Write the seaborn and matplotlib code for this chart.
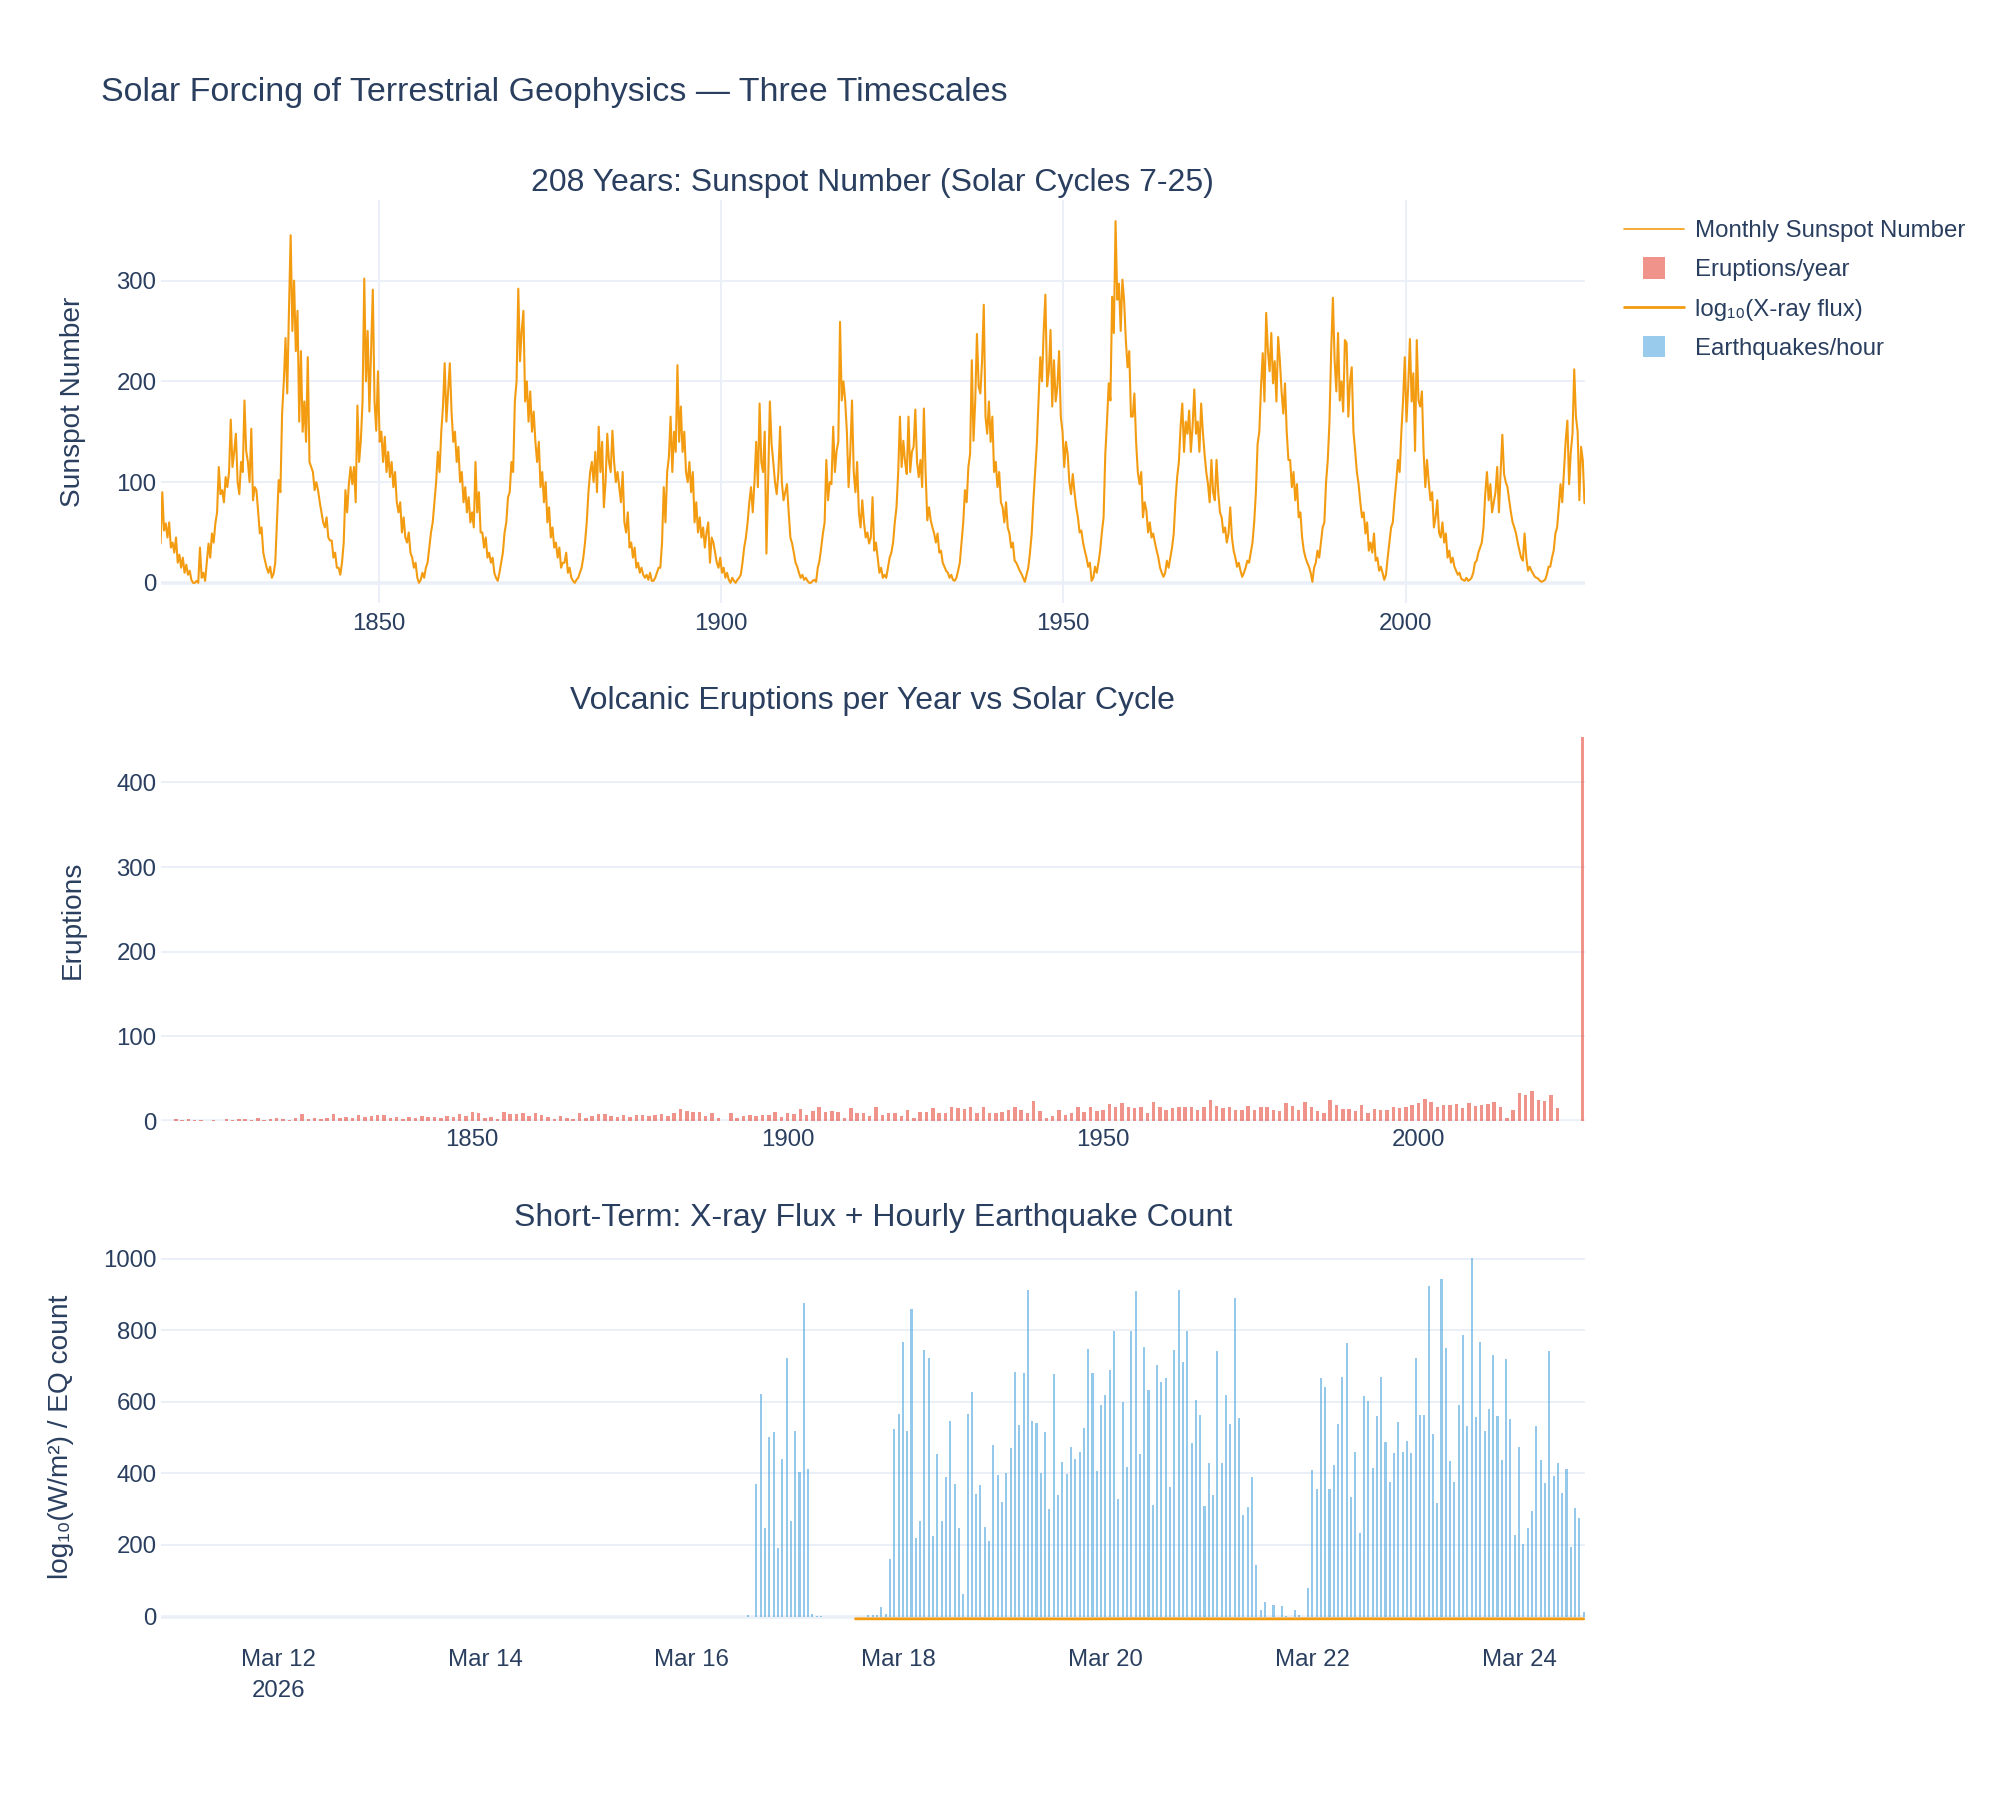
import numpy as np
import pandas as pd
import matplotlib
matplotlib.use('Agg')
import matplotlib.pyplot as plt
import matplotlib.patches as mpatches
from matplotlib.lines import Line2D
from matplotlib.legend_handler import HandlerPatch
import seaborn as sns

# --- data --------------------------------------------------------------------

# Monthly sunspot number, read at quarterly resolution (4 values per year), 1818 -> early 2026
sunspot_start = 1818
sunspot_q = [
    # 1818-1822
    39, 90, 52, 59, 45, 60, 35, 40, 30, 45, 20, 28, 15, 25, 10, 18, 8, 12, 3, 0,
    # 1823-1827
    0, 2, 0, 35, 5, 10, 2, 20, 39, 25, 49, 40, 59, 70, 115, 88, 92, 80, 105, 95,
    # 1828-1832
    110, 162, 115, 130, 148, 100, 88, 120, 110, 181, 131, 120, 100, 153, 82, 95, 92, 70, 49, 55,
    # 1833-1837
    30, 22, 15, 10, 16, 5, 9, 20, 62, 102, 90, 168, 200, 243, 188, 270, 345, 250, 300, 230,
    # 1838-1842
    270, 160, 230, 150, 180, 140, 224, 120, 115, 110, 92, 100, 92, 80, 70, 60, 55, 65, 45, 42,
    # 1843-1847
    42, 25, 30, 15, 15, 8, 20, 40, 92, 70, 98, 115, 98, 115, 80, 176, 120, 141, 180, 302,
    # 1848-1852
    200, 250, 170, 230, 291, 180, 151, 210, 140, 150, 120, 145, 110, 130, 105, 120, 95, 110, 80, 70,
    # 1853-1857
    80, 50, 65, 45, 40, 50, 30, 25, 15, 20, 5, 0, 3, 10, 5, 15, 20, 35, 50, 60,
    # 1858-1862
    80, 100, 130, 110, 150, 175, 218, 160, 190, 218, 170, 140, 150, 120, 135, 100, 110, 80, 95, 70,
    # 1863-1867
    85, 60, 70, 55, 120, 70, 90, 50, 50, 35, 45, 25, 30, 20, 25, 10, 5, 2, 10, 20,
    # 1868-1872
    30, 50, 60, 85, 90, 120, 110, 180, 200, 292, 220, 250, 270, 180, 200, 160, 190, 150, 170, 140,
    # 1873-1877
    120, 140, 95, 110, 80, 100, 60, 75, 45, 55, 35, 40, 25, 35, 15, 20, 20, 30, 10, 15,
    # 1878-1882
    5, 2, 0, 3, 5, 10, 15, 25, 40, 60, 90, 110, 120, 100, 130, 90, 155, 110, 140, 75,
    # 1883-1887
    100, 148, 120, 110, 151, 120, 100, 110, 95, 80, 110, 60, 50, 70, 35, 40, 25, 35, 15, 20,
    # 1888-1892
    10, 15, 8, 5, 8, 3, 10, 2, 2, 5, 10, 15, 15, 40, 95, 60, 110, 125, 165, 110,
    # 1893-1897
    150, 130, 216, 140, 175, 130, 150, 110, 100, 120, 90, 110, 60, 80, 50, 65, 45, 55, 35, 50,
    # 1898-1902
    60, 20, 45, 40, 30, 20, 15, 25, 10, 15, 5, 10, 3, 0, 5, 2, 0, 3, 5, 8,
    # 1903-1907
    20, 35, 45, 60, 80, 95, 70, 100, 140, 95, 178, 120, 110, 150, 29, 100, 180, 138, 120, 100,
    # 1908-1912
    88, 110, 155, 100, 82, 90, 98, 70, 45, 39, 30, 20, 16, 10, 5, 8, 3, 5, 2, 0,
    # 1913-1917
    0, 2, 3, 1, 15, 22, 35, 49, 60, 122, 82, 100, 98, 155, 110, 131, 140, 259, 181, 200,
    # 1918-1922
    181, 150, 95, 130, 181, 110, 90, 120, 70, 55, 82, 60, 45, 50, 39, 45, 85, 32, 40, 25,
    # 1923-1927
    10, 15, 5, 8, 5, 15, 25, 30, 40, 60, 75, 110, 165, 115, 141, 120, 108, 165, 110, 130,
    # 1928-1932
    135, 172, 120, 105, 122, 95, 173, 110, 62, 75, 62, 55, 49, 40, 49, 30, 32, 20, 16, 12,
    # 1933-1937
    10, 5, 8, 3, 2, 5, 12, 20, 40, 60, 92, 80, 115, 128, 221, 141, 180, 247, 195, 188,
    # 1938-1942
    220, 276, 165, 148, 180, 140, 165, 110, 120, 95, 110, 80, 75, 60, 80, 55, 49, 35, 40, 22,
    # 1943-1947
    20, 16, 12, 9, 5, 1, 8, 15, 30, 49, 82, 110, 138, 181, 224, 200, 250, 286, 195, 210,
    # 1948-1952
    251, 175, 221, 180, 195, 230, 165, 150, 115, 140, 128, 100, 88, 108, 90, 75, 65, 50, 52, 40,
    # 1953-1957
    32, 25, 16, 20, 2, 5, 16, 10, 20, 32, 50, 65, 128, 160, 198, 181, 284, 248, 359, 281,
    # 1958-1962
    297, 250, 301, 280, 241, 214, 230, 165, 165, 188, 140, 110, 98, 110, 65, 80, 72, 50, 60, 45,
    # 1963-1967
    49, 40, 32, 25, 15, 10, 6, 10, 22, 15, 25, 35, 49, 82, 105, 120, 155, 178, 130, 160,
    # 1968-1972
    148, 171, 130, 155, 192, 148, 160, 130, 178, 150, 128, 110, 98, 80, 122, 90, 82, 122, 90, 70,
    # 1973-1977
    65, 50, 55, 40, 49, 75, 45, 32, 25, 16, 20, 12, 6, 10, 15, 22, 20, 30, 40, 60,
    # 1978-1982
    90, 138, 150, 195, 228, 180, 268, 231, 210, 248, 198, 220, 180, 244, 221, 190, 168, 198, 150, 122,
    # 1983-1987
    122, 95, 110, 82, 98, 65, 70, 45, 32, 25, 20, 16, 10, 1, 15, 20, 32, 25, 40, 55,
    # 1988-1992
    60, 100, 122, 160, 231, 283, 221, 190, 248, 181, 200, 170, 241, 238, 165, 200, 214, 150, 131, 110,
    # 1993-1997
    98, 80, 65, 70, 49, 60, 32, 40, 30, 49, 22, 25, 12, 16, 10, 3, 8, 25, 40, 55,
    # 1998-2002
    60, 82, 100, 122, 110, 150, 181, 224, 160, 195, 242, 180, 208, 131, 241, 181, 175, 190, 130, 95,
    # 2003-2007
    122, 100, 82, 90, 55, 65, 82, 50, 45, 60, 40, 49, 25, 32, 20, 25, 16, 12, 8, 10,
    # 2008-2012
    4, 3, 2, 5, 2, 3, 5, 10, 20, 22, 30, 35, 40, 55, 88, 110, 82, 98, 70, 80,
    # 2013-2017
    90, 115, 70, 110, 147, 108, 100, 95, 82, 70, 60, 55, 49, 40, 32, 25, 22, 49, 25, 12,
    # 2018-2022
    16, 12, 9, 6, 5, 4, 2, 1, 2, 3, 8, 16, 16, 25, 32, 49, 55, 75, 98, 80,
    # 2023-2026
    110, 141, 161, 98, 130, 148, 212, 165, 150, 82, 135, 122, 79,
]

# Volcanic eruptions per year, 1801-2026
erupt_years = list(range(1801, 2027))
erupt_counts = [
    # 1801-1850
    0, 0, 2, 1, 2, 1, 1, 0, 1, 0, 2, 1, 2, 2, 1, 3, 1, 2, 4, 2,
    1, 3, 8, 2, 3, 2, 4, 8, 3, 5, 4, 7, 5, 6, 7, 7, 3, 5, 2, 5,
    3, 6, 5, 5, 4, 6, 5, 8, 6, 11,
    # 1851-1900
    10, 3, 5, 2, 11, 8, 8, 9, 6, 10, 7, 5, 2, 6, 4, 2, 9, 3, 6, 8,
    8, 6, 5, 7, 5, 7, 7, 6, 7, 8, 6, 9, 14, 12, 11, 11, 6, 9, 4, 0,
    9, 3, 6, 7, 6, 7, 7, 11, 5, 9,
    # 1901-1913
    8, 14, 7, 12, 16, 11, 12, 11, 4, 15, 9, 10, 6,
    # 1914-1963
    16, 7, 9, 10, 6, 13, 3, 11, 11, 15, 10, 9, 17, 15, 14, 17, 10, 17, 10, 10,
    11, 13, 17, 13, 10, 24, 12, 4, 6, 13, 7, 9, 17, 11, 17, 12, 13, 20, 17, 21,
    16, 15, 17, 10, 22, 16, 13, 15, 17, 17,
    # 1964-2013
    17, 13, 17, 25, 18, 15, 17, 13, 13, 18, 13, 16, 16, 13, 12, 21, 18, 13, 23, 17,
    12, 9, 25, 19, 14, 14, 12, 19, 10, 14, 13, 13, 16, 15, 16, 19, 21, 26, 22, 16,
    19, 19, 20, 15, 21, 18, 19, 20, 23, 17,
    # 2014-2026
    4, 13, 33, 31, 35, 25, 24, 31, 15, 0, 0, 0, 453,
]

# Hourly earthquake counts, starting 2026-03-16 13:00
eq_start = '2026-03-16 13:00'
eq_counts = [
    # Mar 16, 13h-23h
    3, 0, 369, 621, 246, 502, 515, 191, 441, 721, 268,
    # Mar 17
    517, 403, 876, 413, 6, 1, 1, 0, 0, 0, 0, 0, 0, 0, 0, 0, 0, 3, 5, 3, 28, 7, 160, 524,
    # Mar 18
    566, 767, 519, 860, 220, 266, 746, 721, 225, 453, 266, 389, 545, 370, 247, 63,
    566, 626, 341, 367, 250, 211, 478, 395,
    # Mar 19
    319, 400, 471, 683, 535, 681, 913, 545, 542, 400, 515, 300, 677, 339, 431, 398,
    475, 440, 460, 526, 747, 681, 407, 591,
    # Mar 20
    620, 689, 797, 328, 598, 418, 799, 910, 453, 753, 634, 313, 704, 655, 667, 362,
    746, 913, 711, 797, 485, 604, 563, 310,
    # Mar 21
    429, 340, 743, 429, 619, 537, 891, 556, 283, 307, 389, 144, 17, 40, 0, 33,
    0, 29, 2, 0, 19, 5, 0, 79,
    # Mar 22
    410, 357, 666, 641, 357, 423, 538, 670, 764, 333, 460, 232, 617, 602, 414, 561,
    668, 488, 376, 457, 543, 459, 490, 456,
    # Mar 23
    721, 563, 563, 923, 510, 316, 944, 749, 434, 375, 590, 787, 532, 1003, 558, 768,
    517, 580, 732, 560, 436, 720, 552, 227,
    # Mar 24, 0h-15h
    473, 204, 247, 296, 532, 436, 372, 741, 392, 428, 344, 411, 194, 304, 276, 12,
]

# log10 of GOES X-ray flux, every 13 hours from 2026-03-17 14:00
xray_start = '2026-03-17 14:00'
xray_log = [-6.4, -6.6, -6.3, -6.5, -6.7, -6.2, -6.4, -6.6, -6.5, -6.3, -6.6, -6.4, -6.5, -6.6]

date_ticks = ['2026-03-12', '2026-03-14', '2026-03-16', '2026-03-18', '2026-03-20', '2026-03-22', '2026-03-24']
date_labels = ['Mar 12\n2026', 'Mar 14', 'Mar 16', 'Mar 18', 'Mar 20', 'Mar 22', 'Mar 24']

# --- style -------------------------------------------------------------------
TEXT = '#2a3f5f'
GRID = '#ebf0f8'
ORANGE = '#f39c12'
RED = '#e74c3c'
BLUE = '#3498db'

sns.set_theme(style='white')
plt.rcParams['font.family'] = ['Liberation Sans', 'DejaVu Sans']
plt.rcParams['text.color'] = TEXT

ss_x = sunspot_start + (np.arange(len(sunspot_q)) + 0.5) / 4.0
eq_t = pd.date_range(eq_start, periods=len(eq_counts), freq='h')
xray_t = pd.date_range(xray_start, periods=len(xray_log), freq='13h')

fig = plt.figure(figsize=(20, 18), dpi=100)
W, H = 2000.0, 1800.0
left, right = 160.7, 1585.0


def panel(top, bottom):
    return fig.add_axes([left / W, 1 - bottom / H, (right - left) / W, (bottom - top) / H])


def style(ax, xgrid=False, ypad=3, xpad=7):
    for s in ax.spines.values():
        s.set_visible(False)
    ax.grid(axis='y', color=GRID, lw=1.4)
    if xgrid:
        ax.grid(axis='x', color=GRID, lw=1.4)
    ax.set_axisbelow(True)
    ax.axhline(0, color=GRID, lw=2.6, zorder=1)
    ax.tick_params(axis='both', length=0, labelsize=17.3, labelcolor=TEXT)
    ax.tick_params(axis='y', pad=ypad)
    ax.tick_params(axis='x', pad=xpad)
    ax.set_xlabel('')


def subtitle(ax, text):
    ax.text(0.5, 1 + 17 / 403, text, transform=ax.transAxes, ha='center', va='center',
            fontsize=23, color=TEXT)


# top: sunspots
ax1 = panel(200, 603)
sns.lineplot(x=ss_x, y=sunspot_q, ax=ax1, color=ORANGE, lw=1.5, estimator=None, legend=False, zorder=3)
style(ax1, xgrid=True)
ax1.set_xlim(1818.14, 2026.2)
ax1.set_ylim(-20, 380)
ax1.set_xticks([1850, 1900, 1950, 2000])
ax1.set_yticks([0, 100, 200, 300])
ax1.set_ylabel('Sunspot Number', fontsize=20.2, color=TEXT, va='center')
ax1.yaxis.set_label_coords((73 - left) / (right - left), 0.5)
subtitle(ax1, '208 Years: Sunspot Number (Solar Cycles 7-25)')

# middle: eruptions
ax2 = panel(718, 1121)
ax2.bar(erupt_years, erupt_counts, width=0.55, color=RED, alpha=0.6, linewidth=0, zorder=3)
style(ax2, xpad=6)
ax2.set_xlim(1800.6, 2026.4)
ax2.set_ylim(0, 476)
ax2.set_xticks([1850, 1900, 1950, 2000])
ax2.set_yticks([0, 100, 200, 300, 400])
ax2.set_ylabel('Eruptions', fontsize=20.2, color=TEXT, va='center')
ax2.yaxis.set_label_coords((73 - left) / (right - left), 0.5)
subtitle(ax2, 'Volcanic Eruptions per Year vs Solar Cycle')

# bottom: x-ray + earthquakes
ax3 = panel(1235, 1638)
ax3.bar(eq_t, eq_counts, width=0.48 / 24, color=BLUE, alpha=0.52, linewidth=0, zorder=2)
sns.lineplot(x=xray_t, y=xray_log, ax=ax3, color=ORANGE, lw=2.0, legend=False, zorder=4)
style(ax3, xpad=8)
ax3.set_xlim(pd.Timestamp('2026-03-10 20:45'), pd.Timestamp('2026-03-24 15:18'))
ax3.set_ylim(-60, 1066)
ax3.set_xticks(pd.to_datetime(date_ticks))
ax3.set_xticklabels(date_labels, linespacing=1.5)
ax3.set_yticks([0, 200, 400, 600, 800, 1000])
ax3.set_ylabel('log₁₀(W/m²) / EQ count', fontsize=20.2, color=TEXT, va='center')
ax3.yaxis.set_label_coords((61 - left) / (right - left), 0.5)
subtitle(ax3, 'Short-Term: X-ray Flux + Hourly Earthquake Count')

fig.text(100.8 / W, 1 - 93 / H, 'Solar Forcing of Terrestrial Geophysics — Three Timescales',
         ha='left', va='center', fontsize=24.5, color=TEXT)


class SquareHandler(HandlerPatch):
    def create_artists(self, legend, orig_handle, xdescent, ydescent, width, height, fontsize, trans):
        s = height * 1.3
        p = mpatches.Rectangle((-xdescent + width / 2 - s / 2, -ydescent + height / 2 - s / 2), s, s)
        self.update_prop(p, orig_handle, legend)
        p.set_transform(trans)
        return [p]


handles = [
    Line2D([], [], color=ORANGE, lw=1.2),
    mpatches.Rectangle((0, 0), 1, 1, facecolor=RED, alpha=0.6, linewidth=0),
    Line2D([], [], color=ORANGE, lw=2.0),
    mpatches.Rectangle((0, 0), 1, 1, facecolor=BLUE, alpha=0.5, linewidth=0),
]
labels = ['Monthly Sunspot Number', 'Eruptions/year', 'log₁₀(X-ray flux)', 'Earthquakes/hour']
fig.legend(handles, labels, loc='upper left', bbox_to_anchor=(1624 / W, 1 - 220 / H),
           frameon=False, fontsize=17.3, handlelength=2.5, handletextpad=0.45,
           labelspacing=0.72, borderpad=0, borderaxespad=0, labelcolor=TEXT,
           handler_map={mpatches.Rectangle: SquareHandler()})

fig.savefig('out.png', dpi=100, facecolor='white')
